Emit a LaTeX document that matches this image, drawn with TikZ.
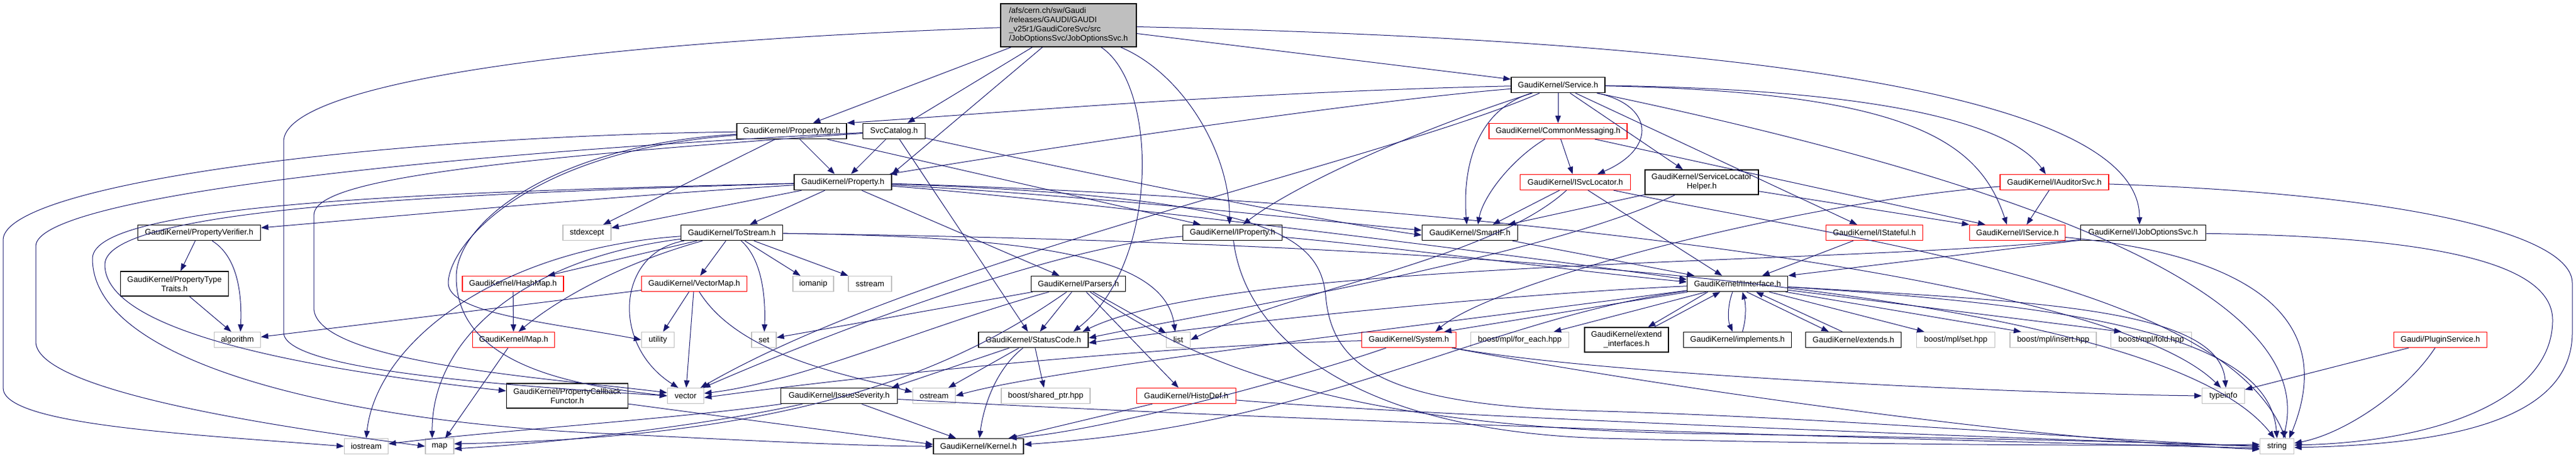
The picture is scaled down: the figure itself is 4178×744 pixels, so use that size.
\documentclass[tikz,border=0pt]{standalone}
\usepackage{fontspec}
\setmainfont{Liberation Sans}
\usetikzlibrary{arrows.meta}
\definecolor{edgec}{HTML}{191970}
\definecolor{greyb}{HTML}{BFBFBF}
\definecolor{redb}{HTML}{FF0000}
\begin{document}
\begin{tikzpicture}[x=1pt,y=-1pt,
  base/.style={draw, line width=1.2pt, inner sep=0pt, minimum height=25pt, align=center,
    font=\fontsize{13}{15}\selectfont, minimum width=#1},
  doc/.style={base=#1, draw=black, line width=1.5pt},
  trunc/.style={base=#1, draw=redb},
  ext/.style={base=#1, draw=greyb},
  dbl/.style={minimum height=40pt},
  e/.style={draw=edgec, line width=1pt, -{Triangle[length=12pt,width=9pt]}}]
\useasboundingbox (0,0) rectangle (4178,744);
% ---- nodes ----
\node[fill=greyb, draw=black, line width=1.5pt, minimum width=220pt, minimum height=70pt, align=left, inner sep=0pt,
  font=\fontsize{13}{15}\selectfont] (root) at (1733,41)
  {/afs/cern.ch/sw/Gaudi\\/releases/GAUDI/GAUDI\\\_v25r1/GaudiCoreSvc/src\\/JobOptionsSvc/JobOptionsSvc.h};
\node[doc=152] (service) at (2527,138) {GaudiKernel/Service.h};
\node[doc=178] (pmgr) at (1284,213) {GaudiKernel/PropertyMgr.h};
\node[doc=101] (svccat) at (1450,213) {SvcCatalog.h};
\node[trunc=224] (commsg) at (2527,213) {GaudiKernel/CommonMessaging.h};
\node[doc=158] (property) at (1367,296) {GaudiKernel/Property.h};
\node[trunc=179] (isvcloc) at (2555,296) {GaudiKernel/ISvcLocator.h};
\node[doc=184, dbl] (slh) at (2760,296) {GaudiKernel/ServiceLocator\\Helper.h};
\node[trunc=176] (iauditor) at (3332,296) {GaudiKernel/IAuditorSvc.h};
\node[doc=199] (pverifier) at (323,378) {GaudiKernel/PropertyVerifier.h};
\node[ext=78] (stdexcept) at (952,378) {stdexcept};
\node[doc=165] (tostream) at (1187,378) {GaudiKernel/ToStream.h};
\node[doc=161] (iproperty) at (1999,378) {GaudiKernel/IProperty.h};
\node[doc=155] (smartif) at (2384,378) {GaudiKernel/SmartIF.h};
\node[trunc=157] (istateful) at (3040,378) {GaudiKernel/IStateful.h};
\node[trunc=155] (iservice) at (3272,378) {GaudiKernel/IService.h};
\node[doc=203] (ijobopt) at (3476,378) {GaudiKernel/IJobOptionsSvc.h};
\node[doc=175, dbl] (ptraits) at (283,461) {GaudiKernel/PropertyType\\Traits.h};
\node[trunc=164] (hashmap) at (832,461) {GaudiKernel/HashMap.h};
\node[trunc=171] (vectormap) at (1126,461) {GaudiKernel/VectorMap.h};
\node[ext=66] (iomanip) at (1319,461) {iomanip};
\node[ext=70] (sstream) at (1411,461) {sstream};
\node[doc=153] (parsers) at (1749,461) {GaudiKernel/Parsers.h};
\node[doc=163] (iinterface) at (2818,461) {GaudiKernel/IInterface.h};
\node[ext=75] (algorithm) at (385,552) {algorithm};
\node[trunc=133] (mapk) at (833,552) {GaudiKernel/Map.h};
\node[ext=53] (utility) at (1067,552) {utility};
\node[ext=40] (setx) at (1239,552) {set};
\node[doc=178] (statuscode) at (1676,552) {GaudiKernel/StatusCode.h};
\node[ext=39] (list) at (1911,552) {list};
\node[trunc=153] (system) at (2285,552) {GaudiKernel/System.h};
\node[ext=159] (foreach) at (2465,552) {boost/mpl/for\_each.hpp};
\node[doc=136, dbl] (extif) at (2638,552) {GaudiKernel/extend\\\_interfaces.h};
\node[doc=175] (implements) at (2818,552) {GaudiKernel/implements.h};
\node[doc=155] (extends) at (3006,552) {GaudiKernel/extends.h};
\node[ext=127] (mplset) at (3172,552) {boost/mpl/set.hpp};
\node[ext=140] (insert) at (3330,552) {boost/mpl/insert.hpp};
\node[ext=131] (fold) at (3489,552) {boost/mpl/fold.hpp};
\node[trunc=151] (plugin) at (3958,552) {Gaudi/PluginService.h};
\node[doc=197, dbl] (pcbf) at (920,643) {GaudiKernel/PropertyCallback\\Functor.h};
\node[ext=59] (vector) at (1112,643) {vector};
\node[doc=189] (issue) at (1361,643) {GaudiKernel/IssueSeverity.h};
\node[ext=69] (ostream) at (1515,643) {ostream};
\node[ext=144] (sharedptr) at (1696,643) {boost/shared\_ptr.hpp};
\node[trunc=161] (histodef) at (1924,643) {GaudiKernel/HistoDef.h};
\node[ext=69] (typeinfo) at (3606,643) {typeinfo};
\node[ext=71] (iostream) at (594,725) {iostream};
\node[ext=46] (map) at (713,725) {map};
\node[doc=146] (kernel) at (1587,725) {GaudiKernel/Kernel.h};
\node[ext=55] (string) at (3693,725) {string};
% ---- root ----
\draw[e] (root) -- (pmgr);
\draw[e] (root) -- (svccat);
\draw[e] (root) -- (property.north east);
\draw[e] (root) .. controls (1880,140) and (1880,430) .. ([xshift=-25pt]statuscode.north east);
\draw[e] (root) .. controls (1920,120) and (1995,250) .. ([xshift=-5pt]iproperty.north);
\draw[e] (root) -- (service);
\draw[e] (root) .. controls (3000,70) and (3470,180) .. ([xshift=-6pt]ijobopt.north);
\draw[e] (root) .. controls (900,70) and (460,140) .. (460,230) -- (460,540) .. controls (460,600) and (800,625) .. (vector.west);
% ---- service ----
\draw[e] (service) -- (commsg);
\draw[e] (service) .. controls (2000,150) and (1600,185) .. (pmgr.north east);
\draw[e] (service) .. controls (2200,165) and (1700,240) .. ([xshift=-4pt]property.north east);
\draw[e] (service) .. controls (2300,210) and (2100,300) .. ([xshift=17pt]iproperty.north);
\draw[e] (service) .. controls (2390,180) and (2372,280) .. ([xshift=-5pt]smartif.north);
\draw[e] (service) .. controls (2250,260) and (1500,420) .. ([xshift=-6pt]vector.north east);
\draw[e] (service) .. controls (2680,170) and (2690,240) .. ([xshift=36pt]isvcloc.north);
\draw[e] (service) -- (slh);
\draw[e] (service) -- (istateful);
\draw[e] (service) .. controls (3100,150) and (3210,230) .. ([xshift=-17pt]iservice.north);
\draw[e] (service) .. controls (3050,145) and (3260,200) .. ([xshift=-14pt]iauditor.north);
\draw[e] (service) .. controls (3300,300) and (3760,480) .. ([xshift=10pt]string.north);
% ---- property mgr ----
\draw[e] (pmgr) -- (property);
\draw[e] (pmgr) -- ([xshift=-52pt]iproperty.north);
\draw[e] (pmgr) -- (stdexcept);
\draw[e] (pmgr) .. controls (600,222) and (5,300) .. (5,390) -- (5,630) .. controls (5,690) and (300,705) .. (iostream.west);
\draw[e] (pmgr) .. controls (900,235) and (740,360) .. (740,450) .. controls (740,600) and (950,628) .. (vector.west);
\draw[e] (pmgr) .. controls (850,245) and (727,400) .. (727,460) .. controls (727,510) and (900,525) .. (utility.west);
% ---- svc catalog ----
\draw[e] (svccat) -- (property);
\draw[e] (svccat) -- (statuscode);
\draw[e] (svccat) .. controls (700,250) and (58,320) .. (58,400) -- (58,555) .. controls (58,640) and (500,700) .. (map.west);
\draw[e] (svccat) .. controls (700,265) and (509,300) .. (509,350) -- (509,500) .. controls (509,590) and (900,615) .. ([yshift=5pt]vector.west);
\draw[e] (svccat) .. controls (1800,290) and (2150,360) .. ([yshift=-4pt]smartif.west);
% ---- property ----
\draw[e] (property) .. controls (1000,318) and (600,355) .. ([yshift=8pt]pverifier.east);
\draw[e] (property) -- (tostream);
\draw[e] (property) -- (stdexcept);
\draw[e] (property) -- (parsers);
\draw[e] (property) .. controls (1800,320) and (2150,360) .. ([yshift=4pt]smartif.west);
\draw[e] (property) .. controls (700,315) and (170,340) .. (170,430) .. controls (170,540) and (500,600) .. ([yshift=8pt]pcbf.west);
\draw[e] (property) .. controls (700,312) and (150,330) .. (150,420) .. controls (150,600) and (600,690) .. (1000,705) .. controls (1200,715) and (1400,725) .. (kernel.west);
\draw[e] (property) .. controls (2050,320) and (2140,380) .. (2150,480) .. controls (2160,600) and (2250,660) .. (2600,668) .. controls (3000,680) and (3400,715) .. (string.west);
\draw[e] (property) .. controls (2200,320) and (3400,430) .. ([xshift=-4pt]typeinfo.north);
\draw[e] (property) .. controls (1800,330) and (2500,420) .. ([yshift=7pt]iinterface.west);
% ---- tostream ----
\draw[e] (tostream) -- (hashmap);
\draw[e] (tostream) -- (vectormap);
\draw[e] (tostream) -- (iomanip);
\draw[e] (tostream) -- (sstream);
\draw[e] (tostream) .. controls (1235,420) and (1242,480) .. (setx);
\draw[e] (tostream) .. controls (1000,430) and (900,490) .. ([xshift=8pt]mapk.north);
\draw[e] (tostream) .. controls (1000,410) and (990,560) .. ([xshift=-12pt]vector.north);
\draw[e] (tostream) .. controls (1700,385) and (1890,420) .. ([xshift=-5pt]list.north);
\draw[e] (tostream) .. controls (2400,395) and (3500,470) .. ([xshift=-4pt]string.north);
\draw[e] (tostream) .. controls (800,405) and (610,560) .. (iostream.north);
\draw[e] (tostream) .. controls (850,420) and (700,550) .. ([xshift=-12pt]map.north);
% ---- maps ----
\draw[e] (hashmap) -- (mapk);
\draw[e] (mapk) -- (map);
\draw[e] (vectormap) -- (utility);
\draw[e] (vectormap) -- (vector);
\draw[e] (vectormap) -- (algorithm);
\draw[e] (vectormap) .. controls (1200,580) and (1380,610) .. ([yshift=6pt]ostream.west);
% ---- parsers ----
\draw[e] (parsers) -- (statuscode);
\draw[e] (parsers) -- (histodef);
\draw[e] (parsers) -- (list);
\draw[e] (parsers) -- (setx);
\draw[e] (parsers) .. controls (1500,530) and (1300,620) .. ([yshift=4pt]vector.east);
\draw[e] (parsers) .. controls (1550,600) and (1300,710) .. ([yshift=4pt]map.east);
\draw[e] (parsers) .. controls (1950,600) and (2200,700) .. (2800,705) .. controls (3200,712) and (3500,718) .. (string.west);
% ---- status code / severity ----
\draw[e] (statuscode) -- (ostream);
\draw[e] (statuscode) -- (sharedptr);
\draw[e] (statuscode) .. controls (1615,600) and (1595,660) .. (kernel);
\draw[e] (statuscode) -- ([xshift=-10pt]issue.north east);
\draw[e] (issue) -- (kernel);
\draw[e] (issue) .. controls (1100,680) and (800,700) .. ([yshift=4pt]iostream.east);
\draw[e] (issue) .. controls (1150,690) and (900,720) .. ([yshift=-4pt]map.east);
\draw[e] (issue) .. controls (2000,680) and (3000,712) .. ([yshift=-3pt]string.west);
\draw[e] (histodef) -- ([xshift=-25pt]kernel.north east);
\draw[e] (histodef) .. controls (2300,675) and (3200,710) .. (string.west);
\draw[e] (pcbf) -- ([yshift=3pt]kernel.west);
% ---- interfaces ----
\draw[e] (iproperty) .. controls (2250,400) and (2550,440) .. ([yshift=3pt]iinterface.west);
\draw[e] (iproperty) .. controls (2020,550) and (2200,700) .. (2600,712) .. controls (3000,722) and (3400,725) .. ([yshift=3pt]string.west);
\draw[e] (iproperty) .. controls (1700,400) and (1300,560) .. ([xshift=-2pt]vector.north east);
\draw[e] (smartif) -- ([xshift=-70pt]iinterface.north);
\draw[e] (isvcloc) -- ([xshift=37pt]smartif.north);
\draw[e] (isvcloc) -- ([xshift=-25pt]iinterface.north);
\draw[e] (isvcloc) .. controls (2420,420) and (2100,470) .. (list.east);
\draw[e] (isvcloc) .. controls (3000,390) and (3600,460) .. ([xshift=14pt]string.north);
\draw[e] (commsg) -- (isvcloc);
\draw[e] (commsg) .. controls (2450,260) and (2405,320) .. ([xshift=13pt]smartif.north);
\draw[e] (commsg) -- ([xshift=-52pt]iservice.north);
\draw[e] (slh) -- ([xshift=62pt]smartif.north);
\draw[e] (slh) -- (iservice.north west);
\draw[e] (slh) .. controls (2500,420) and (1950,510) .. ([yshift=3pt]statuscode.east);
\draw[e] (iauditor) -- ([xshift=15pt]iservice.north);
\draw[e] (iauditor) .. controls (3900,315) and (4172,380) .. (4172,460) -- (4172,540) .. controls (4172,690) and (3950,722) .. ([yshift=-2pt]string.east);
\draw[e] (iauditor) .. controls (2900,330) and (2420,460) .. ([xshift=-34pt]system.north east);
\draw[e] (istateful) -- ([xshift=40pt]iinterface.north);
\draw[e] (iservice) .. controls (3500,400) and (3820,450) .. ([xshift=20pt]string.north);
\draw[e] (ijobopt) -- (iinterface.north east);
\draw[e] (ijobopt) .. controls (4000,385) and (4140,440) .. (4140,520) .. controls (4140,650) and (3950,718) .. ([yshift=2pt]string.east);
\draw[e] (ijobopt) .. controls (3000,430) and (2000,420) .. ([xshift=-10pt]statuscode.north east);
% ---- IInterface ----
\draw[e] ([xshift=-8pt]iinterface.south) .. controls (2802,495) and (2802,520) .. ([xshift=-8pt]implements.north);
\draw[e] ([xshift=8pt]implements.north) .. controls (2832,520) and (2832,495) .. ([xshift=8pt]iinterface.south);
\draw[e] ([xshift=15pt]iinterface.south) -- ([xshift=-40pt]extends.north);
\draw[e] ([xshift=-18pt]extends.north) -- ([xshift=30pt]iinterface.south);
\draw[e] ([xshift=-48pt]iinterface.south) -- ([xshift=35pt]extif.north);
\draw[e] ([xshift=45pt]extif.north) -- ([xshift=-28pt]iinterface.south);
\draw[e] (iinterface) -- ([xshift=-20pt]system.north east);
\draw[e] (iinterface) -- ([xshift=55pt]foreach.north);
\draw[e] (iinterface) -- ([xshift=-51pt]mplset.north);
\draw[e] (iinterface) -- ([xshift=-52pt]insert.north);
\draw[e] (iinterface) -- ([xshift=-48pt]fold.north);
\draw[e] (iinterface) .. controls (3300,490) and (3600,500) .. ([xshift=4pt]typeinfo.north);
\draw[e] (iinterface) .. controls (3350,495) and (3680,540) .. (string.north);
\draw[e] (iinterface) .. controls (2400,520) and (2150,690) .. ([yshift=3pt]kernel.east);
\draw[e] (iinterface) .. controls (2400,480) and (1950,530) .. ([yshift=-5pt]statuscode.east);
\draw[e] (iinterface) .. controls (2300,530) and (1700,600) .. (ostream.east);
% ---- system ----
\draw[e] (system) .. controls (2150,600) and (1800,700) .. ([xshift=50pt]kernel.north);
\draw[e] (system) .. controls (2600,610) and (3300,640) .. (typeinfo.west);
\draw[e] (system) .. controls (2700,630) and (3300,715) .. ([yshift=-5pt]string.west);
\draw[e] (system) .. controls (1900,560) and (1400,610) .. ([yshift=-3pt]vector.east);
% ---- plugin ----
\draw[e] (plugin) -- ([yshift=-3pt]typeinfo.north east);
\draw[e] (plugin) .. controls (3900,640) and (3800,705) .. ([yshift=5pt]string.east);
% ---- verifier ----
\draw[e] (pverifier) -- (ptraits);
\draw[e] (pverifier) .. controls (390,420) and (392,490) .. ([xshift=5pt]algorithm.north);
\draw[e] (ptraits) -- ([xshift=-10pt]algorithm.north);
\end{tikzpicture}
\end{document}
